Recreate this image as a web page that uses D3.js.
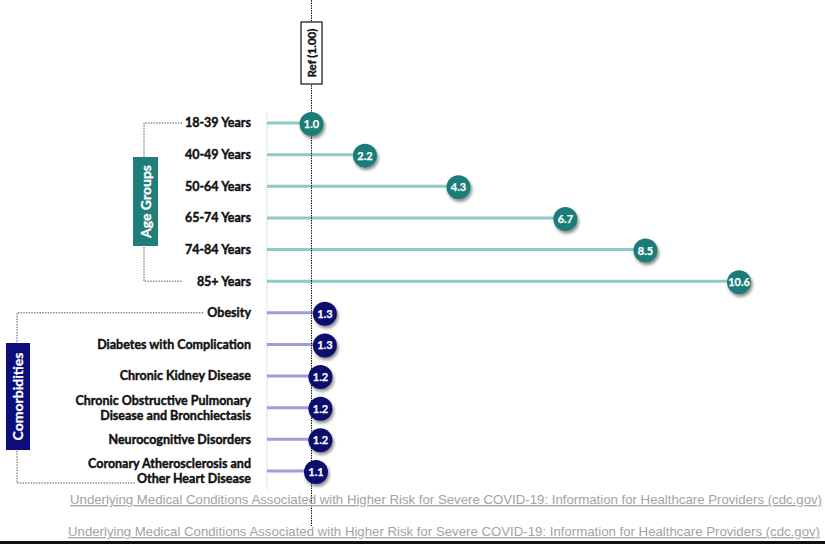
<!DOCTYPE html>
<html>
<head>
<meta charset="utf-8">
<script src="https://cdn.jsdelivr.net/npm/d3@7"></script>
<style>
  html, body { margin: 0; padding: 0; background: #fff; }
  svg { display: block; }
</style>
</head>
<body>
<svg id="chart" width="825" height="544"></svg>
<script>
// Risk ratios relative to the 18-39 reference group
const ageGroups = ["18-39 Years", "40-49 Years", "50-64 Years", "65-74 Years", "74-84 Years", "85+ Years"];
const ageValues = [1.0, 2.2, 4.3, 6.7, 8.5, 10.6];

const conditions = [
  ["Obesity"],
  ["Diabetes with Complication"],
  ["Chronic Kidney Disease"],
  ["Chronic Obstructive Pulmonary", "Disease and Bronchiectasis"],
  ["Neurocognitive Disorders"],
  ["Coronary Atherosclerosis and", "Other Heart Disease"]
];
const conditionValues = [1.3, 1.3, 1.2, 1.2, 1.2, 1.1];

const refValue = 1.0;
const refLabel = "Ref (1.00)";
const groupLabels = ["Age Groups", "Comorbidities"];
const sourceText = "Underlying Medical Conditions Associated with Higher Risk for Severe COVID-19: Information for Healthcare Providers (cdc.gov)";

const palette = {
  age:  { dot: "#1c7b77", stem: "#8ecbc7", box: "#1f7e7a" },
  cond: { dot: "#0b0b6e", stem: "#9d9dd8", box: "#0d0d7a" }
};

const rows = [
  ...ageGroups.map((g, i) => ({ key: g, lines: [g], value: ageValues[i], kind: "age" })),
  ...conditions.map((c, i) => ({ key: c.join(" "), lines: c, value: conditionValues[i], kind: "cond" }))
];

const svg = d3.select("#chart");
const defs = svg.append("defs");
const shadow = defs.append("filter").attr("id", "dotShadow")
  .attr("x", "-50%").attr("y", "-50%").attr("width", "200%").attr("height", "200%");
shadow.append("feDropShadow")
  .attr("dx", 1.5).attr("dy", 2.5).attr("stdDeviation", 1.4)
  .attr("flood-color", "#000").attr("flood-opacity", 0.45);

const x = d3.scaleLinear().domain([0, 10.6]).range([267, 739]);
const y = d3.scalePoint().domain(rows.map(r => r.key)).range([123, 471]);

const labelFont = "Lato, 'Open Sans', sans-serif";

// faint baseline at zero
svg.append("line")
  .attr("x1", x(0)).attr("x2", x(0)).attr("y1", 113).attr("y2", 490)
  .attr("stroke", "#c4c4c4").attr("stroke-width", 1).attr("stroke-dasharray", "1,1");

// stems
svg.append("g").selectAll("line").data(rows).join("line")
  .attr("x1", x(0)).attr("x2", d => x(d.value))
  .attr("y1", d => y(d.key)).attr("y2", d => y(d.key))
  .attr("stroke", d => palette[d.kind].stem).attr("stroke-width", 3);

// reference line
svg.append("line")
  .attr("x1", x(refValue)).attr("x2", x(refValue)).attr("y1", 0).attr("y2", 526)
  .attr("stroke", "#111").attr("stroke-width", 1).attr("stroke-dasharray", "1.5,1");

// reference label box
const refG = svg.append("g").attr("transform", `translate(${x(refValue)},53)`);
refG.append("rect").attr("x", -10.5).attr("y", -31).attr("width", 21).attr("height", 62)
  .attr("fill", "#fff").attr("stroke", "#111").attr("stroke-width", 1.2);
refG.append("text").attr("transform", "rotate(-90)")
  .attr("text-anchor", "middle").attr("dy", "0.36em")
  .attr("font-family", labelFont).attr("font-weight", 700).attr("font-size", 11.5)
  .attr("stroke", "#111").attr("stroke-width", 0.35)
  .attr("fill", "#111").text(refLabel);

// dots with values
const dots = svg.append("g").selectAll("g").data(rows).join("g")
  .attr("transform", d => `translate(${x(d.value)},${y(d.key) + 1})`);
dots.append("circle").attr("r", 12)
  .attr("fill", d => palette[d.kind].dot).attr("filter", "url(#dotShadow)");
dots.append("text").attr("text-anchor", "middle").attr("dy", "0.36em")
  .attr("font-family", labelFont).attr("font-weight", 700).attr("font-size", 11)
  .attr("stroke", "#fff").attr("stroke-width", 0.25)
  .attr("fill", "#fff").text(d => d.value.toFixed(1));

// category labels
const labels = svg.append("g").selectAll("text").data(rows).join("text")
  .attr("x", 251)
  .attr("y", d => y(d.key))
  .attr("text-anchor", "end")
  .attr("font-family", labelFont).attr("font-weight", 700).attr("font-size", 12.5)
  .attr("stroke", "#111").attr("stroke-width", 0.4)
  .attr("fill", "#111");
labels.each(function (d) {
  const t = d3.select(this);
  const n = d.lines.length;
  d.lines.forEach((ln, i) => {
    t.append("tspan").attr("x", 251)
      .attr("y", y(d.key) + (i - (n - 1) / 2) * 15)
      .attr("dy", "0.35em").text(ln);
  });
});

// group brackets
const dotted = { stroke: "#555", "stroke-width": 1, "stroke-dasharray": "1.5,1.2", fill: "none" };
function bracket(path) {
  const p = svg.append("path").attr("d", path);
  Object.entries(dotted).forEach(([k, v]) => p.attr(k, v));
}
const a0 = y(ageGroups[0]), a1 = y(ageGroups[ageGroups.length - 1]);
bracket(`M182,${a0}H144V${a1}H182`);
const c0 = y(rows[ageGroups.length].key), c1 = y(rows[rows.length - 1].key) + 12;
bracket(`M203,${c0}H17V${c1}H135`);

function groupBox(cx, cy, w, h, color, label) {
  const g = svg.append("g").attr("transform", `translate(${cx},${cy})`);
  g.append("rect").attr("x", -w / 2).attr("y", -h / 2).attr("width", w).attr("height", h).attr("fill", color);
  g.append("text").attr("transform", "rotate(-90)").attr("text-anchor", "middle").attr("dy", "0.36em")
    .attr("font-family", labelFont).attr("font-weight", 700).attr("font-size", 14)
    .attr("stroke", "#fff").attr("stroke-width", 0.3)
    .attr("fill", "#fff").text(label);
}
groupBox(145.5, 201.5, 25, 89, palette.age.box, groupLabels[0]);
groupBox(18, 396.5, 24, 107, palette.cond.box, groupLabels[1]);

// source links
[[70, 504], [68, 536]].forEach(([sx, sy]) => {
  svg.append("text").attr("x", sx).attr("y", sy)
    .attr("font-family", "'Liberation Sans', Arial, sans-serif").attr("font-size", 13)
    .attr("textLength", 752).attr("lengthAdjust", "spacingAndGlyphs")
    .attr("fill", "#a3a3a3").attr("text-decoration", "underline")
    .text(sourceText);
});

// bottom rule
svg.append("rect").attr("x", 0).attr("y", 541).attr("width", 825).attr("height", 3).attr("fill", "#111");
</script>
</body>
</html>
